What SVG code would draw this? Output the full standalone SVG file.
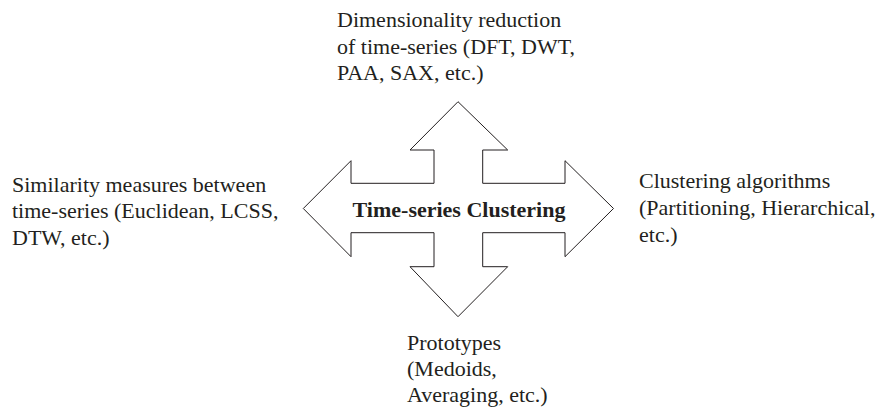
<svg xmlns="http://www.w3.org/2000/svg" width="879" height="407" viewBox="0 0 879 407">
<style>
.lbl{font-size:22px;fill:#231f20}
.ttl{font-size:22px;font-weight:bold;fill:#231f20}
.shape{fill:#fff;stroke:#231f20;stroke-width:1}
</style>
<rect width="879" height="407" fill="#fff"/>
<g font-family="'Liberation Serif', 'Times New Roman', 'DejaVu Serif', serif">
<g id="cross-arrow">
<polygon class="shape" points="458,101.7 507.7,150 482.7,150 482.7,183.3 565,183.3 565,160.7 613.5,208.5 565,256.7 565,232.7 482.7,232.7 482.7,266.7 507.7,266.7 458,316.7 410,266.7 434,266.7 434,232.7 351,232.7 351,256.7 303.3,208.5 351,160.7 351,183.3 434,183.3 434,150 410,150"/>
<text class="ttl" x="459" y="216.5" text-anchor="middle">Time-series Clustering</text>
</g>
<g id="connectors"></g>
<g id="top-label">
<text class="lbl" x="337" y="26.7">Dimensionality reduction</text>
<text class="lbl" x="337" y="53.5">of time-series (DFT, DWT,</text>
<text class="lbl" x="337" y="80.2">PAA, SAX, etc.)</text>
</g>
<g id="left-label">
<text class="lbl" x="12" y="191.7">Similarity measures between</text>
<text class="lbl" x="12" y="218.4">time-series (Euclidean, LCSS,</text>
<text class="lbl" x="12" y="245">DTW, etc.)</text>
</g>
<g id="right-label">
<text class="lbl" x="639" y="188.3">Clustering algorithms</text>
<text class="lbl" x="639" y="215">(Partitioning, Hierarchical,</text>
<text class="lbl" x="639" y="241.5">etc.)</text>
</g>
<g id="bottom-label">
<text class="lbl" x="407" y="350">Prototypes</text>
<text class="lbl" x="407" y="376.3">(Medoids,</text>
<text class="lbl" x="407" y="402">Averaging, etc.)</text>
</g>
</g>
</svg>
